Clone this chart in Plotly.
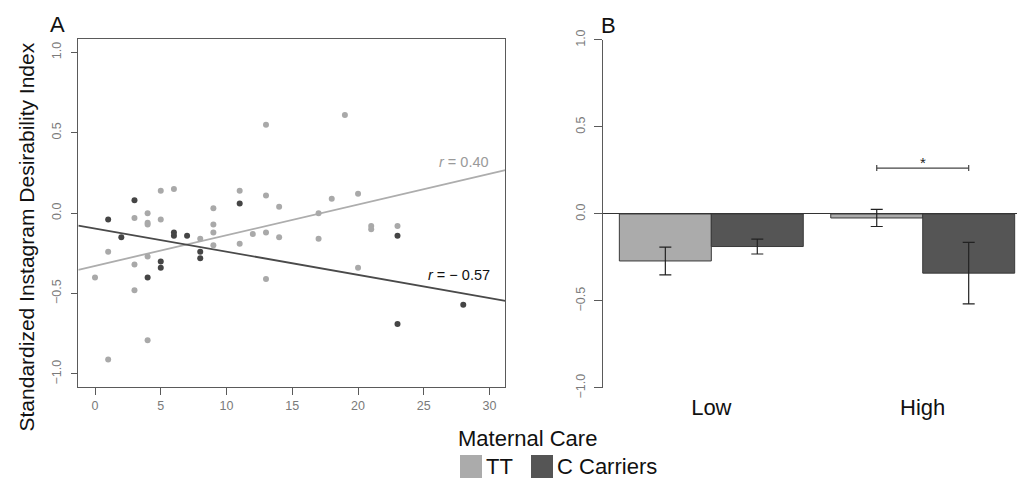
import plotly.graph_objects as go

# ---------------- data ----------------
# Panel A: scatter (Maternal Care vs Standardized Instagram Desirability Index)
tt_care = [0, 1, 1, 3, 3, 3, 4, 4, 4, 4, 4, 5, 5, 6, 8, 9, 9, 9, 9, 11, 11, 12,
           13, 13, 13, 13, 14, 14, 17, 17, 18, 19, 20, 20, 21, 21, 23]
tt_index = [-0.40, -0.24, -0.91, -0.03, -0.32, -0.48, 0.00, -0.06, -0.07, -0.27, -0.79,
            0.14, -0.04, 0.15, -0.16, 0.03, -0.07, -0.12, -0.20, 0.14, -0.19, -0.13,
            0.55, 0.11, -0.12, -0.41, 0.04, -0.15, 0.00, -0.16, 0.09, 0.61, 0.12, -0.34,
            -0.08, -0.10, -0.08]
c_care = [1, 2, 3, 4, 5, 5, 6, 6, 7, 8, 8, 11, 23, 23, 28]
c_index = [-0.04, -0.15, 0.08, -0.40, -0.30, -0.34, -0.12, -0.14, -0.14, -0.24, -0.28,
           0.06, -0.14, -0.69, -0.57]

# regression line end points
fit_x = [-1.27, 31.2]
tt_fit_y = [-0.352, 0.267]
c_fit_y = [-0.077, -0.545]
tt_r_label = "<i>r</i> = 0.40"
c_r_label = "<i>r</i> = \u2212 0.57"

# Panel B: bars
groups = ["Low", "High"]
tt_means = [-0.27, -0.023]
tt_err = [0.080, 0.049]
c_means = [-0.187, -0.34]
c_err = [0.043, 0.177]
sig_y = 0.264

series_names = ["TT", "C Carriers"]
light = "#ababab"
dark = "#555555"
font_family = "Liberation Sans, Arial, sans-serif"

W, H = 1017, 490

fig = go.Figure()

# ---------------- Panel A ----------------
fig.add_trace(go.Scatter(x=fit_x, y=tt_fit_y, mode="lines",
                         line=dict(color="#adadad", width=1.8),
                         showlegend=False, hoverinfo="skip", xaxis="x", yaxis="y"))
fig.add_trace(go.Scatter(x=fit_x, y=c_fit_y, mode="lines",
                         line=dict(color="#4a4a4a", width=1.8),
                         showlegend=False, hoverinfo="skip", xaxis="x", yaxis="y"))
fig.add_trace(go.Scatter(x=tt_care, y=tt_index, mode="markers", name=series_names[0],
                         marker=dict(color="#a9a9a9", size=6, line=dict(width=0)),
                         showlegend=False, xaxis="x", yaxis="y"))
fig.add_trace(go.Scatter(x=c_care, y=c_index, mode="markers", name=series_names[1],
                         marker=dict(color="#454545", size=6, line=dict(width=0)),
                         showlegend=False, xaxis="x", yaxis="y"))

# ---------------- Panel B ----------------
fig.add_trace(go.Bar(x=groups, y=tt_means, name=series_names[0],
                     marker=dict(color=light, line=dict(color="#3a3a3a", width=1)),
                     error_y=dict(type="data", array=tt_err, color="#222222",
                                  thickness=1.2, width=6),
                     showlegend=False, xaxis="x2", yaxis="y2"))
fig.add_trace(go.Bar(x=groups, y=c_means, name=series_names[1],
                     marker=dict(color=dark, line=dict(color="#3a3a3a", width=1)),
                     error_y=dict(type="data", array=c_err, color="#222222",
                                  thickness=1.2, width=6),
                     showlegend=False, xaxis="x2", yaxis="y2"))

tick_font = dict(family=font_family, size=12.5, color="#7a7a7a")
ytickvals = [-1.0, -0.5, 0.0, 0.5, 1.0]
yticktext = ["\u22121.0", "\u22120.5", "0.0", "0.5", "1.0"]

fig.update_layout(
    template="none",
    width=W, height=H, autosize=False,
    margin=dict(l=0, r=0, t=0, b=0, pad=0),
    paper_bgcolor="white", plot_bgcolor="white",
    font=dict(family=font_family, color="#111111"),
    barmode="group", bargap=0.13, bargroupgap=0,
    showlegend=False,
    xaxis=dict(domain=[0.0770, 0.4969], range=[-1.27, 31.2], automargin=False,
               tickmode="array", tickvals=[0, 5, 10, 15, 20, 25, 30],
               showline=True, mirror=True, linecolor="#5a5a5a", linewidth=1,
               ticks="outside", ticklen=7, tickcolor="#5a5a5a", tickwidth=1,
               showgrid=False, zeroline=False, tickfont=tick_font),
    yaxis=dict(domain=[0.2096, 0.9204], range=[-1.083, 1.083], automargin=False,
               tickmode="array", tickvals=ytickvals, ticktext=yticktext,
               tickangle=-90, ticklabelstandoff=5,
               showline=True, mirror=True, linecolor="#5a5a5a", linewidth=1,
               ticks="outside", ticklen=6, tickcolor="#5a5a5a", tickwidth=1,
               showgrid=False, zeroline=False, tickfont=tick_font),
    xaxis2=dict(domain=[0.5932, 1.0], range=[-0.511, 1.446], anchor="y2",
                automargin=False,
                showline=False, ticks="", showgrid=False, zeroline=False,
                tickfont=dict(family=font_family, size=22, color="#111111"),
                ticklabelstandoff=4),
    yaxis2=dict(domain=[0.2082, 0.9184], range=[-1.0, 1.0], anchor="x2",
                automargin=False,
                tickmode="array", tickvals=ytickvals, ticktext=yticktext,
                tickangle=-90, ticklabelstandoff=4,
                showline=True, linecolor="#5a5a5a", linewidth=1,
                ticks="outside", ticklen=8, tickcolor="#5a5a5a", tickwidth=1,
                showgrid=False, zeroline=True, zerolinecolor="#333333",
                zerolinewidth=1, tickfont=tick_font),
)

# significance bracket between High TT and High C bars
half = (1 - 0.13) / 4
x_lo, x_hi = 1 - half, 1 + half
cap = 0.017
bracket = dict(color="#444444", width=1.2)
shapes = [
    dict(type="line", xref="x2", yref="y2", x0=x_lo, x1=x_hi, y0=sig_y, y1=sig_y, line=bracket),
    dict(type="line", xref="x2", yref="y2", x0=x_lo, x1=x_lo, y0=sig_y - cap, y1=sig_y + cap, line=bracket),
    dict(type="line", xref="x2", yref="y2", x0=x_hi, x1=x_hi, y0=sig_y - cap, y1=sig_y + cap, line=bracket),
]

# legend (swatches + labels) placed at the bottom centre
legend_y0, legend_y1 = 1 - 478 / H, 1 - 455 / H
swatches = [(460, 482, light), (531, 553, dark)]
for x0, x1, col in swatches:
    shapes.append(dict(type="rect", xref="paper", yref="paper",
                       x0=x0 / W, x1=x1 / W, y0=legend_y0, y1=legend_y1,
                       fillcolor=col, line=dict(width=0)))
fig.update_layout(shapes=shapes)

annotations = [
    dict(text=tt_r_label, x=30.1, y=0.32, xref="x", yref="y", xanchor="right",
         yanchor="middle", showarrow=False,
         font=dict(family=font_family, size=14.5, color="#9a9a9a")),
    dict(text=c_r_label, x=30.2, y=-0.383, xref="x", yref="y", xanchor="right",
         yanchor="middle", showarrow=False,
         font=dict(family=font_family, size=14.5, color="#111111")),
    dict(text="*", x=1, y=0.295, xref="x2", yref="y2", xanchor="center",
         yanchor="middle", showarrow=False,
         font=dict(family=font_family, size=15, color="#222222")),
    dict(text="A", x=57 / W, y=1 - 25 / H, xref="paper", yref="paper",
         xanchor="center", yanchor="middle", showarrow=False,
         font=dict(family=font_family, size=22, color="#111111")),
    dict(text="B", x=608 / W, y=1 - 25.5 / H, xref="paper", yref="paper",
         xanchor="center", yanchor="middle", showarrow=False,
         font=dict(family=font_family, size=22, color="#111111")),
    dict(text="Maternal Care", x=527 / W, y=1 - 438 / H, xref="paper", yref="paper",
         xanchor="center", yanchor="middle", showarrow=False,
         font=dict(family=font_family, size=22, color="#111111")),
    dict(text="Standardized Instagram Desirability Index", x=26 / W, y=1 - 237.5 / H,
         xref="paper", yref="paper", xanchor="center", yanchor="middle",
         textangle=-90, showarrow=False,
         font=dict(family=font_family, size=21, color="#111111")),
    dict(text=series_names[0], x=484 / W, y=1 - 466.5 / H, xref="paper", yref="paper",
         xanchor="left", yanchor="middle", showarrow=False,
         font=dict(family=font_family, size=22, color="#111111")),
    dict(text=series_names[1], x=555 / W, y=1 - 466.5 / H, xref="paper", yref="paper",
         xanchor="left", yanchor="middle", showarrow=False,
         font=dict(family=font_family, size=22, color="#111111")),
]
fig.update_layout(annotations=annotations)

fig.write_html("out.html", config={"displayModeBar": False},
               post_script="document.body.style.margin='0';")
